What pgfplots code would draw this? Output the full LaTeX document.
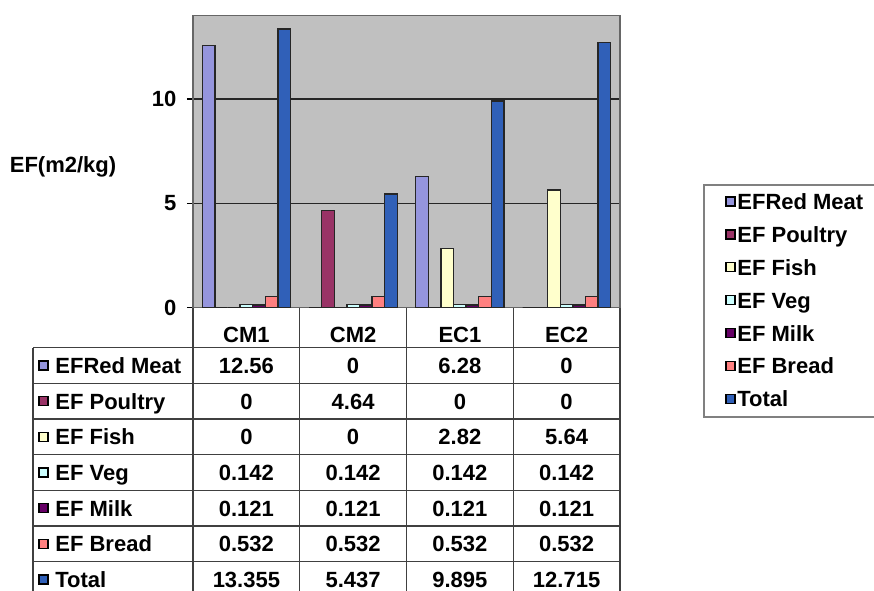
\documentclass[border=0pt]{standalone}
\usepackage{pgfplots}
\pgfplotsset{compat=1.18}
\usepackage{fontspec}
\setmainfont{Liberation Sans}
\definecolor{cMeat}{HTML}{9595DD}
\definecolor{cPoultry}{HTML}{993366}
\definecolor{cFish}{HTML}{FFFFCC}
\definecolor{cVeg}{HTML}{CCFFFF}
\definecolor{cMilk}{HTML}{660066}
\definecolor{cBread}{HTML}{FF8080}
\definecolor{cTotal}{HTML}{3060B8}
\definecolor{plotgray}{HTML}{C0C0C0}
\begin{document}
\fontsize{11pt}{13pt}\selectfont\bfseries
\begin{tikzpicture}
\path[use as bounding box] (0,0) rectangle (437pt,-295pt);
\begin{axis}[
  at={(96.5pt,-153.75pt)}, anchor=south west,
  scale only axis, width=213.5pt, height=146pt,
  xmin=-0.5, xmax=3.5, ymin=0, ymax=14,
  xtick=\empty, ytick={0,5,10}, ytick pos=left,
  ymajorgrids, grid style={black!85, line width=0.7pt},
  axis background/.style={fill=plotgray},
  axis line style={gray!80!black, line width=0.8pt},
  tick align=outside, major tick length=3pt,
  tick style={black, line width=0.6pt},
  yticklabel style={font=\fontsize{11pt}{13pt}\selectfont\bfseries, xshift=-1.5pt},
  /pgf/number format/assume math mode=true,
  ybar=0pt, bar width=6.3pt,
  every axis plot/.append style={draw=black!85, line width=0.7pt},
]
\addplot[fill=cMeat]    coordinates {(0,12.56) (1,0) (2,6.28) (3,0)};
\addplot[fill=cPoultry] coordinates {(0,0) (1,4.64) (2,0) (3,0)};
\addplot[fill=cFish]    coordinates {(0,0) (1,0) (2,2.82) (3,5.64)};
\addplot[fill=cVeg]     coordinates {(0,0.142) (1,0.142) (2,0.142) (3,0.142)};
\addplot[fill=cMilk]    coordinates {(0,0.121) (1,0.121) (2,0.121) (3,0.121)};
\addplot[fill=cBread]   coordinates {(0,0.532) (1,0.532) (2,0.532) (3,0.532)};
\addplot[fill=cTotal]   coordinates {(0,13.355) (1,5.437) (2,9.895) (3,12.715)};
\end{axis}
\begin{scope}[x=0.5pt,y=-0.5pt,every node/.style={inner sep=0pt,text height=7.9pt,text depth=0pt}]
% y label
\node at (63,164.5) {EF(m2/kg)};
% table lines
\foreach \xx in {193,299.75,406.5,513.25,620} \draw[black!75,line width=0.6pt] (\xx,308) -- (\xx,600);
\draw[black!75,line width=0.6pt] (33,347.7) -- (33,600);
\foreach \yy in {347.7,383.3,419,454.7,490.3,526,561.7,597.3} \draw[black!75,line width=0.6pt] (33,\yy) -- (620,\yy);
% header
\node at (246.4,335) {CM1};
\node at (353.1,335) {CM2};
\node at (459.9,335) {EC1};
\node at (566.6,335) {EC2};
% rows
\newcommand\trow[7]{%
  \draw[black,line width=0.6pt,fill=#2] (39,#1-4.5) rectangle (48,#1+4.5);
  \node[anchor=west] at (55,#1) {#3};
  \node at (246.4,#1) {#4};
  \node at (353.1,#1) {#5};
  \node at (459.9,#1) {#6};
  \node at (566.6,#1) {#7};}
\trow{365.5}{cMeat}{EFRed Meat}{12.56}{0}{6.28}{0}
\trow{401.1}{cPoultry}{EF Poultry}{0}{4.64}{0}{0}
\trow{436.8}{cFish}{EF Fish}{0}{0}{2.82}{5.64}
\trow{472.5}{cVeg}{EF Veg}{0.142}{0.142}{0.142}{0.142}
\trow{508.1}{cMilk}{EF Milk}{0.121}{0.121}{0.121}{0.121}
\trow{543.8}{cBread}{EF Bread}{0.532}{0.532}{0.532}{0.532}
\trow{579.5}{cTotal}{Total}{13.355}{5.437}{9.895}{12.715}
% legend
\draw[gray,line width=0.6pt] (890,185) -- (704,185) -- (704,417) -- (890,417);
\foreach \c/\t [count=\i from 0] in {cMeat/EFRed Meat,cPoultry/EF Poultry,cFish/EF Fish,cVeg/EF Veg,cMilk/EF Milk,cBread/EF Bread,cTotal/Total}{
  \pgfmathsetmacro\yy{201.5+32.9*\i}
  \draw[black,line width=0.6pt,fill=\c] (726,\yy-4.5) rectangle (735,\yy+4.5);
  \node[anchor=west] at (737,\yy) {\t};
}
\end{scope}
\end{tikzpicture}
\end{document}
